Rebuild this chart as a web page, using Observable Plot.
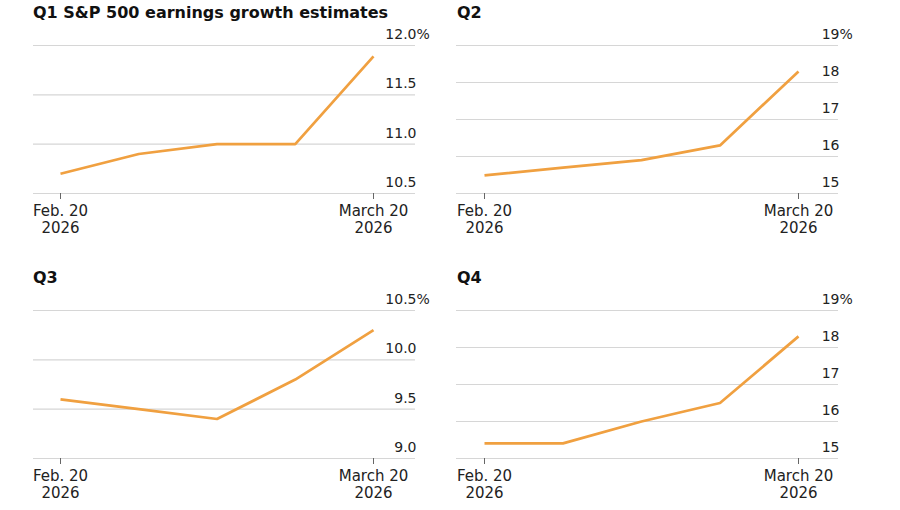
<!DOCTYPE html>
<html><head><meta charset="utf-8">
<script src="https://cdn.jsdelivr.net/npm/d3@7"></script>
<script src="https://cdn.jsdelivr.net/npm/@observablehq/plot@0.6"></script>
<style>
body{margin:0;background:#fff;font-family:"DejaVu Sans",sans-serif;}
#wrap{position:relative;width:900px;height:510px;overflow:hidden;}
.panel{position:absolute;width:450px;height:250px;}
.title{position:absolute;top:3px;font-weight:bold;font-size:16px;line-height:19px;color:#111;white-space:nowrap;}
.panel svg{position:absolute;top:24px;left:0;}
</style></head><body><div id="wrap"></div>
<script>
const dates = ["2026-02-20", "2026-02-27", "2026-03-06", "2026-03-13", "2026-03-20"];
const xTickLabels = ["Feb. 20\n2026", "March 20\n2026"];
const titles = ["Q1 S&P 500 earnings growth estimates", "Q2", "Q3", "Q4"];
const q1 = [10.70, 10.90, 11.00, 11.00, 11.89];
const q2 = [15.49, 15.70, 15.90, 16.30, 18.30];
const q3 = [9.60, 9.50, 9.40, 9.80, 10.30];
const q4 = [15.41, 15.41, 16.00, 16.50, 18.30];
const q1Ticks = [10.5, 11.0, 11.5, 12.0];
const q2Ticks = [15, 16, 17, 18, 19];
const q3Ticks = [9.0, 9.5, 10.0, 10.5];
const q4Ticks = [15, 16, 17, 18, 19];

const parsed = dates.map(d => new Date(d + "T00:00:00Z"));
const xTicks = [parsed[0], parsed[parsed.length - 1]];

const panels = [
  {title: titles[0], values: q1, ticks: q1Ticks, digits: 1, left: 0, top: 0, ml: 33, mr: 35, il: 27, ir: 42, tl: 33},
  {title: titles[1], values: q2, ticks: q2Ticks, digits: 0, left: 450, top: 0, ml: 6, mr: 62, il: 28, ir: 40, tl: 7},
  {title: titles[2], values: q3, ticks: q3Ticks, digits: 1, left: 0, top: 265, ml: 33, mr: 35, il: 27, ir: 42, tl: 33},
  {title: titles[3], values: q4, ticks: q4Ticks, digits: 0, left: 450, top: 265, ml: 6, mr: 62, il: 28, ir: 40, tl: 7}
];

const wrap = document.getElementById("wrap");
for (const p of panels) {
  const div = document.createElement("div");
  div.className = "panel";
  div.style.left = p.left + "px";
  div.style.top = p.top + "px";
  const t = document.createElement("div");
  t.className = "title";
  t.style.left = p.tl + "px";
  t.textContent = p.title;
  div.appendChild(t);

  const data = parsed.map((d, i) => ({date: d, value: p.values[i]}));
  const top = p.ticks[p.ticks.length - 1];
  const chart = Plot.plot({
    width: 450,
    height: 225,
    marginLeft: p.ml,
    marginRight: p.mr,
    marginTop: 21,
    marginBottom: 56,
    style: {fontFamily: '"DejaVu Sans", sans-serif', fontSize: "14px", color: "#222", background: "transparent"},
    x: {type: "utc", domain: xTicks, insetLeft: p.il, insetRight: p.ir},
    y: {domain: [p.ticks[0], top]},
    marks: [
      Plot.gridY(p.ticks, {stroke: "#d6d6d6", strokeOpacity: 1, strokeWidth: 1.2}),
      Plot.axisX({
        ticks: xTicks,
        tickSize: 6,
        tickPadding: 4,
        stroke: "#666",
        tickFormat: (d, i) => xTickLabels[i],
        fontSize: 15,
        lineHeight: 1.15,
        fill: "#222",
        label: null
      }),
      Plot.axisY({
        anchor: "right",
        ticks: p.ticks,
        tickSize: 0,
        tickPadding: 0,
        textAnchor: "end",
        dx: 1,
        dy: -11,
        fontSize: 14,
        fill: "#222",
        tickFormat: d => d.toFixed(p.digits),
        label: null
      }),
      Plot.text([top], {y: d => d, text: () => "%", frameAnchor: "right", textAnchor: "start", dx: 1, dy: -11, fontSize: 14, fill: "#222"}),
      Plot.line(data, {x: "date", y: "value", stroke: "#f0a040", strokeWidth: 2.7, strokeLinejoin: "miter", strokeLinecap: "butt"})
    ]
  });
  div.appendChild(chart);
  wrap.appendChild(div);
}
</script>
</body></html>
